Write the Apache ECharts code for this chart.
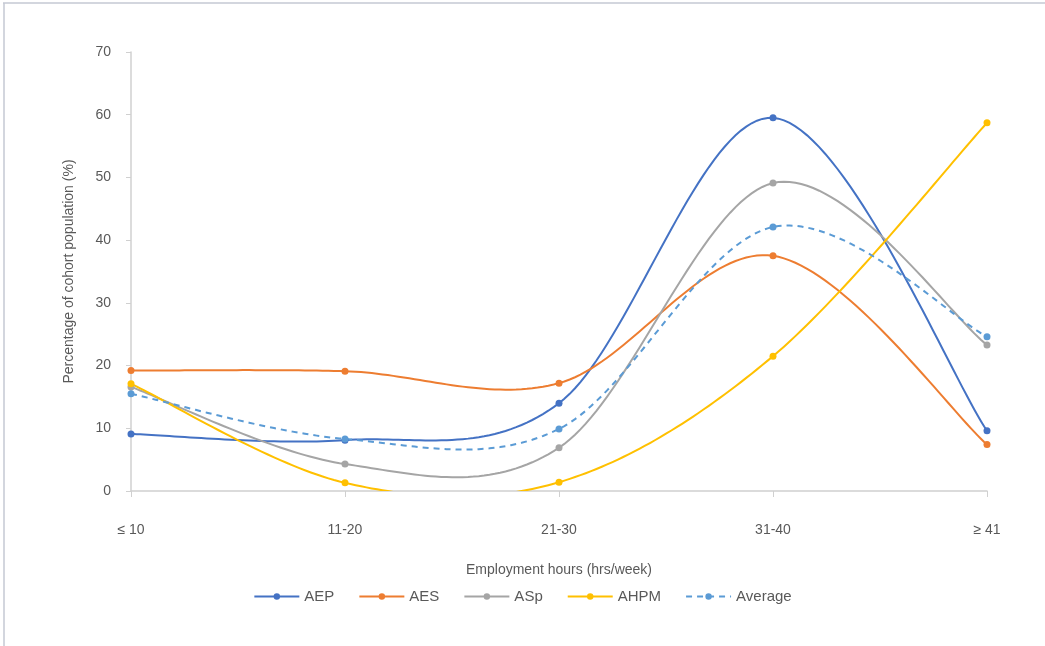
<!DOCTYPE html>
<html><head><meta charset="utf-8">
<script src="https://cdn.jsdelivr.net/npm/echarts@6/dist/echarts.min.js"></script>
<style>html,body{margin:0;padding:0;background:#fff}#c{width:1045px;height:646px}</style>
</head><body><div id="c"></div>
<script>
const categories = ['≤ 10', '11-20', '21-30', '31-40', '≥ 41'];
const AEP = [9.1, 8.1, 14.0, 59.5, 9.6];
const AES = [19.2, 19.1, 17.2, 37.5, 7.4];
const ASp = [16.6, 4.3, 6.9, 49.1, 23.3];
const AHPM = [17.1, 1.3, 1.4, 21.5, 58.7];
const Average = [15.5, 8.3, 9.9, 42.1, 24.6];
const yTicks = [0, 10, 20, 30, 40, 50, 60, 70];

const font = 'Liberation Sans';
const txt = '#595959';
const defs = [
  { name: 'AEP', data: AEP, color: '#4472C4' },
  { name: 'AES', data: AES, color: '#ED7D31' },
  { name: 'ASp', data: ASp, color: '#A5A5A5' },
  { name: 'AHPM', data: AHPM, color: '#FFC000' },
  { name: 'Average', data: Average, color: '#5B9BD5', dashed: true }
];

// Excel-style smoothing (Catmull-Rom converted to cubic Bezier), computed in pixel space from api.coord
function curveSeries(d) {
  return {
    name: d.name + '_curve', type: 'custom', clip: true, z: 2, silent: true,
    data: d.data.map((v, i) => [i, v]),
    encode: { x: 0, y: 1 },
    renderItem: function (params, api) {
      if (params.dataIndex !== 0) return null;
      const p = d.data.map((v, i) => api.coord([i, v]));
      const pts = [];
      for (let i = 0; i < p.length - 1; i++) {
        const p0 = p[Math.max(i - 1, 0)], p1 = p[i], p2 = p[i + 1], p3 = p[Math.min(i + 2, p.length - 1)];
        const c1 = [p1[0] + (p2[0] - p0[0]) / 6, p1[1] + (p2[1] - p0[1]) / 6];
        const c2 = [p2[0] - (p3[0] - p1[0]) / 6, p2[1] - (p3[1] - p1[1]) / 6];
        const N = 40;
        for (let k = (i === 0 ? 0 : 1); k <= N; k++) {
          const t = k / N, u = 1 - t;
          pts.push([
            u * u * u * p1[0] + 3 * u * u * t * c1[0] + 3 * u * t * t * c2[0] + t * t * t * p2[0],
            u * u * u * p1[1] + 3 * u * u * t * c1[1] + 3 * u * t * t * c2[1] + t * t * t * p2[1]
          ]);
        }
      }
      return {
        type: 'polyline', shape: { points: pts },
        style: { stroke: d.color, lineWidth: 2, fill: null, lineDash: d.dashed ? [6, 5] : null }
      };
    }
  };
}
function markerSeries(d) {
  return {
    name: d.name, type: 'line', data: d.data, symbol: 'circle', symbolSize: 7, z: 3,
    lineStyle: { color: d.color, width: 2, opacity: 0 },
    itemStyle: { color: d.color }
  };
}
const chart = echarts.init(document.getElementById('c'));
chart.setOption({
  animation: false,
  backgroundColor: '#fff',
  textStyle: { fontFamily: font },
  graphic: [
    { type: 'line', shape: { x1: 3, y1: 3, x2: 1045, y2: 3 }, style: { stroke: '#c5c9d3', lineWidth: 1.5 } },
    { type: 'line', shape: { x1: 4, y1: 3, x2: 4, y2: 646 }, style: { stroke: '#c5c9d3', lineWidth: 1.5 } }
  ],
  grid: { left: 131, right: 58, top: 52, bottom: 155 },
  legend: {
    bottom: 37, left: 'center', itemWidth: 45, itemHeight: 8, itemGap: 24,
    textStyle: { color: txt, fontSize: 15, fontFamily: font },
    data: defs.map(d => ({
      name: d.name,
      lineStyle: { color: d.color, width: 2, opacity: 1, type: d.dashed ? [6, 5] : 'solid' },
      itemStyle: { color: d.color }
    }))
  },
  xAxis: {
    type: 'category', data: categories, boundaryGap: false,
    name: 'Employment hours (hrs/week)', nameLocation: 'middle', nameGap: 72,
    nameTextStyle: { color: txt, fontSize: 14 },
    axisLine: { lineStyle: { color: '#d0d0d0', width: 1.5 } },
    axisTick: { show: true, length: 6, lineStyle: { color: '#d0d0d0' } },
    axisLabel: { color: txt, fontSize: 14, margin: 32 },
    splitLine: { show: false }
  },
  yAxis: {
    type: 'value', min: yTicks[0], max: yTicks[yTicks.length - 1], interval: 10,
    name: 'Percentage of cohort population (%)', nameLocation: 'middle', nameGap: 55,
    nameTextStyle: { color: txt, fontSize: 14 },
    axisLine: { show: true, lineStyle: { color: '#d0d0d0', width: 1.5 } },
    axisTick: { show: true, length: 5, lineStyle: { color: '#d0d0d0' } },
    axisLabel: { color: txt, fontSize: 14, margin: 20 },
    splitLine: { show: false }
  },
  series: defs.map(markerSeries).concat(defs.map(curveSeries))
});
</script></body></html>
